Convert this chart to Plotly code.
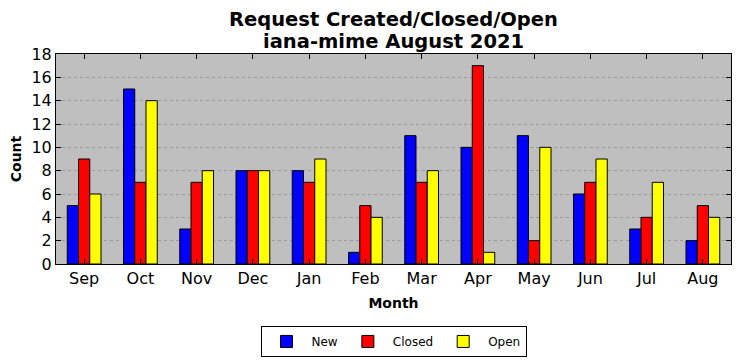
import plotly.graph_objects as go

months = ["Sep", "Oct", "Nov", "Dec", "Jan", "Feb", "Mar", "Apr", "May", "Jun", "Jul", "Aug"]
new_vals = [5, 15, 3, 8, 8, 1, 11, 10, 11, 6, 3, 2]
closed_vals = [9, 7, 7, 8, 7, 5, 7, 17, 2, 7, 4, 5]
open_vals = [6, 14, 8, 8, 9, 4, 8, 1, 10, 9, 7, 4]
y_ticks = list(range(0, 19, 2))

fig = go.Figure()
for name, vals, color in [("New", new_vals, "#0000ff"), ("Closed", closed_vals, "#ff0000"), ("Open", open_vals, "#ffff00")]:
    fig.add_trace(go.Bar(x=months, y=vals, name=name, marker=dict(color=color, line=dict(color="black", width=1))))

font = "DejaVu Sans"
# page body has an 8px margin, so the figure is sized 8px smaller
fig.update_layout(
    width=733, height=353,
    margin=dict(l=48, r=10, t=46, b=97, autoexpand=False),
    paper_bgcolor="white", plot_bgcolor="#bfbfbf",
    barmode="group", bargap=0.4, bargroupgap=0,
    font=dict(family=font, color="black", size=12),
    legend=dict(orientation="h", x=0.5, xanchor="center", y=-0.295, yanchor="top", bordercolor="black", borderwidth=1,
                font=dict(size=12), traceorder="normal", itemwidth=40),
    showlegend=True,
)
fig.add_annotation(
    text="<b>Request Created/Closed/Open</b>",
    xref="paper", yref="paper", x=0.5, y=1.0, xanchor="center", yanchor="middle",
    yshift=35, showarrow=False, font=dict(size=19.5),
)
fig.add_annotation(
    text="<b>iana-mime August 2021</b>",
    xref="paper", yref="paper", x=0.5, y=1.0, xanchor="center", yanchor="middle",
    yshift=13, showarrow=False, font=dict(size=19.5),
)
fig.update_xaxes(
    title=dict(text="<b>Month</b>", font=dict(size=14), standoff=10),
    showline=True, linecolor="black", linewidth=1, mirror="allticks",
    ticks="inside", ticklen=5, tickcolor="black", tickfont=dict(size=16),
    range=[-0.5, 11.5], automargin=False,
)
fig.update_yaxes(
    title=dict(text="<b>Count</b>", font=dict(size=14), standoff=8),
    showline=True, linecolor="black", linewidth=1, mirror="allticks",
    ticks="inside", ticklen=5, tickcolor="black", tickfont=dict(size=16),
    range=[0, 18], tickvals=y_ticks, automargin=False,
    showgrid=True, gridcolor="#9a9a9a", griddash="dot", gridwidth=1, zeroline=False,
)
fig.write_html("out.html")
